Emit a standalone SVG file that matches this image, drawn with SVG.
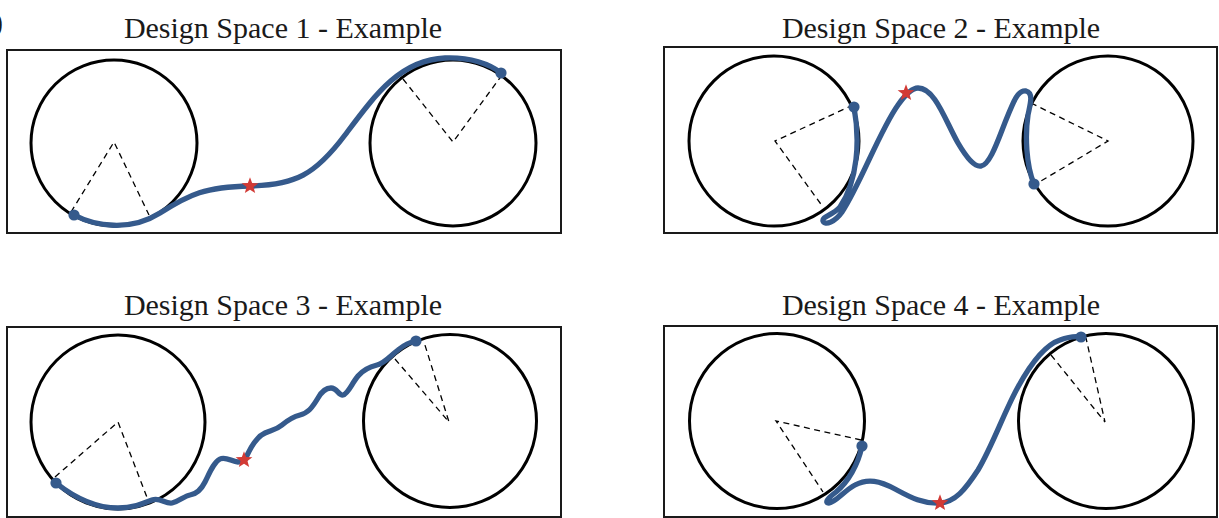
<svg xmlns="http://www.w3.org/2000/svg" xmlns:xlink="http://www.w3.org/1999/xlink" width="1219" height="518" viewBox="0 0 1219 518">
<style>
  .title{font-family:"Liberation Serif","Times New Roman",serif;font-size:30px;fill:#1a1a1a;text-anchor:middle}
  .frame{fill:none;stroke:#1a1a1a;stroke-width:2}
  .ring{fill:none;stroke:#000;stroke-width:3}
  .dash{fill:none;stroke:#000;stroke-width:1.3;stroke-dasharray:6,4.5}
  .path{fill:none;stroke:#355a8c;stroke-width:5.3;stroke-linecap:round;stroke-linejoin:round}
  .dot{fill:#355a8c}
  .star{fill:#d23a35}
</style>
<defs>
  <path id="star" d="M0,-8.8 L2.13,-2.94 L8.37,-2.72 L3.45,1.12 L5.17,7.12 L0,3.63 L-5.17,7.12 L-3.45,1.12 L-8.37,-2.72 L-2.13,-2.94 Z"/>
</defs>
<rect width="1219" height="518" fill="#ffffff"/>
<text x="-7" y="32" style="font-family:'Liberation Serif',serif;font-size:30px;fill:#1a1a1a">)</text>

<g id="panel1">
  <text class="title" x="283" y="38">Design Space 1 - Example</text>
  <rect class="frame" x="7" y="50" width="554" height="183"/>
  <circle class="ring" cx="114" cy="143" r="83"/>
  <circle class="ring" cx="453" cy="143" r="83"/>
  <polyline class="dash" points="71,212 114,142 149,215"/>
  <polyline class="dash" points="403,79 453,142 502,75"/>
  <path class="path" d="M74,215 C95,226 130,232 160,213 C190,194 205,187 250,186 C295,185 315,175 345,135 C375,95 400,60 445,58 C470,57 490,64 501,73"/>
  <circle class="dot" cx="74" cy="215" r="5.6"/>
  <circle class="dot" cx="501" cy="73" r="5.6"/>
  <use href="#star" class="star" x="250" y="186"/>
</g>

<g id="panel2">
  <text class="title" x="941" y="38">Design Space 2 - Example</text>
  <rect class="frame" x="664" y="47" width="553" height="186"/>
  <circle class="ring" cx="774" cy="141" r="85"/>
  <circle class="ring" cx="1108" cy="141" r="85"/>
  <polyline class="dash" points="853,105 775,141 823,207"/>
  <polyline class="dash" points="1031,103 1108,141 1036,184"/>
  <path class="path" d="M854,107 C860,140 858,180 840,207 C832,216 822,216 823,221 C825,226 835,222 842,212 C860,185 880,130 898,105 C905,95 912,88 918,88 C935,88 945,120 958,143 C968,160 975,167 981,166 C990,165 998,140 1006,120 C1014,100 1018,90 1026,91 C1034,93 1030,105 1028,115 C1025,135 1026,165 1034,184"/>
  <circle class="dot" cx="854" cy="107" r="5.6"/>
  <circle class="dot" cx="1034" cy="184" r="5.6"/>
  <use href="#star" class="star" x="906" y="93"/>
</g>

<g id="panel3">
  <text class="title" x="283" y="315">Design Space 3 - Example</text>
  <rect class="frame" x="7" y="327" width="554" height="190"/>
  <circle class="ring" cx="118" cy="422" r="87"/>
  <circle class="ring" cx="450" cy="421" r="86.5"/>
  <polyline class="dash" points="55,477 118,422 148,500"/>
  <polyline class="dash" points="395,359 449,422 424,342"/>
  <path class="path" d="M56,483 C75,498 97,508 118,508 C132,508 142,504 152,500 C160,497 165,504 172,503 C180,501 184,496 190,495 C197,494 201,490 205,482 C210,472 214,462 220,459 C226,456 232,462 238,462 C241,462 243,461 245,460 C250,448 256,437 265,433 C272,430 276,430 282,425 C288,420 292,417 300,415 C308,413 312,408 318,398 C322,391 326,388 331,388 C337,388 339,396 343,395 C348,394 352,383 358,376 C363,370 369,367 377,365 C385,363 390,356 398,350 C404,345 410,342 416,341"/>
  <circle class="dot" cx="56" cy="483" r="5.6"/>
  <circle class="dot" cx="416" cy="341" r="5.6"/>
  <use href="#star" class="star" x="244" y="460"/>
</g>

<g id="panel4">
  <text class="title" x="941" y="315">Design Space 4 - Example</text>
  <rect class="frame" x="664" y="326" width="553" height="191"/>
  <circle class="ring" cx="777" cy="421" r="87.5"/>
  <circle class="ring" cx="1106" cy="421" r="87.5"/>
  <polyline class="dash" points="861,440 776,421 823,492"/>
  <polyline class="dash" points="1051,355 1105,422 1086,338"/>
  <path class="path" d="M862,446 C858,465 848,482 836,492 C828,498 824,503 829,503 C835,503 845,490 855,485 C868,478 880,481 895,489 C910,497 922,504 940,503 C955,502 965,490 978,470 C992,447 1005,410 1018,387 C1030,365 1045,345 1060,340 C1068,337 1075,336 1081,337"/>
  <circle class="dot" cx="862" cy="446" r="5.6"/>
  <circle class="dot" cx="1081" cy="337" r="5.6"/>
  <use href="#star" class="star" x="940" y="503"/>
</g>
</svg>
